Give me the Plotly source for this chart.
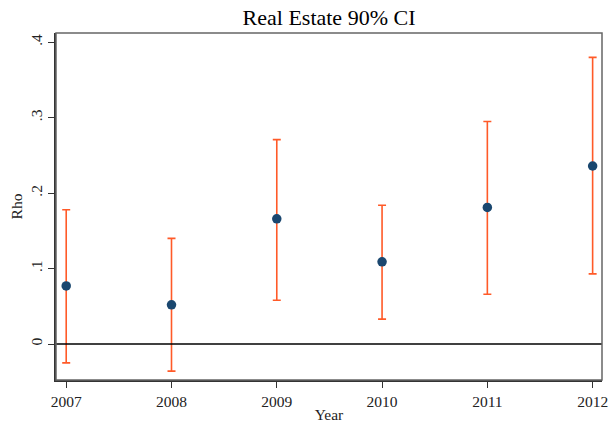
import plotly.graph_objects as go

years = [2007, 2008, 2009, 2010, 2011, 2012]
rho = [0.077, 0.052, 0.166, 0.109, 0.181, 0.236]
ci_upper = [0.178, 0.140, 0.271, 0.184, 0.295, 0.380]
ci_lower = [-0.025, -0.036, 0.058, 0.033, 0.066, 0.093]
y_tickvals = [0, 0.1, 0.2, 0.3, 0.4]
y_ticktext = ["0", ".1", ".2", ".3", ".4"]

err_plus = [u - r for u, r in zip(ci_upper, rho)]
err_minus = [r - l for r, l in zip(rho, ci_lower)]

font = "Liberation Serif, Times New Roman, serif"

fig = go.Figure()
fig.add_trace(go.Scatter(
    x=years, y=rho, mode="markers",
    marker=dict(color="#1a476f", size=9.5),
    error_y=dict(type="data", symmetric=False, array=err_plus, arrayminus=err_minus,
                 color="#ff5a28", thickness=1.6, width=4),
    showlegend=False,
))

fig.add_hline(y=0, line=dict(color="#000000", width=1.5))

fig.add_shape(type="rect", xref="paper", yref="paper", x0=0, x1=1, y0=0, y1=1,
              line=dict(color="#666666", width=1.5), layer="above")

fig.update_layout(
    width=615, height=425,
    margin=dict(l=56, r=13, t=33, b=45, autoexpand=False),
    paper_bgcolor="white", plot_bgcolor="white",
    font=dict(family=font, size=15, color="#222"),
    title=dict(text="Real Estate 90% CI", x=0.535, xanchor="center", y=0.96, yanchor="middle",
               yref="container", font=dict(family=font, size=22, color="#000")),
    xaxis=dict(range=[2006.903, 2012.089], tickvals=years, ticks="outside", ticklen=6,
               tickcolor="#333", showgrid=False, zeroline=False, showline=True,
               linecolor="#333", linewidth=2, automargin=False,
               tickfont=dict(family=font, size=15.5),
               title=dict(text="Year", font=dict(family=font, size=15.5), standoff=1)),
    yaxis=dict(range=[-0.0477, 0.4123], tickvals=y_tickvals, ticktext=y_ticktext,
               ticks="outside", ticklen=6, tickcolor="#333", tickangle=-90,
               showgrid=False, zeroline=False, showline=True, linecolor="#333", linewidth=2,
               automargin=False, tickfont=dict(family=font, size=15.5),
               title=dict(text="Rho", font=dict(family=font, size=15.5), standoff=1)),
)

fig.write_html("out.html", config={"displayModeBar": False},
               post_script="document.body.style.margin='0';document.body.style.overflow='hidden';")
